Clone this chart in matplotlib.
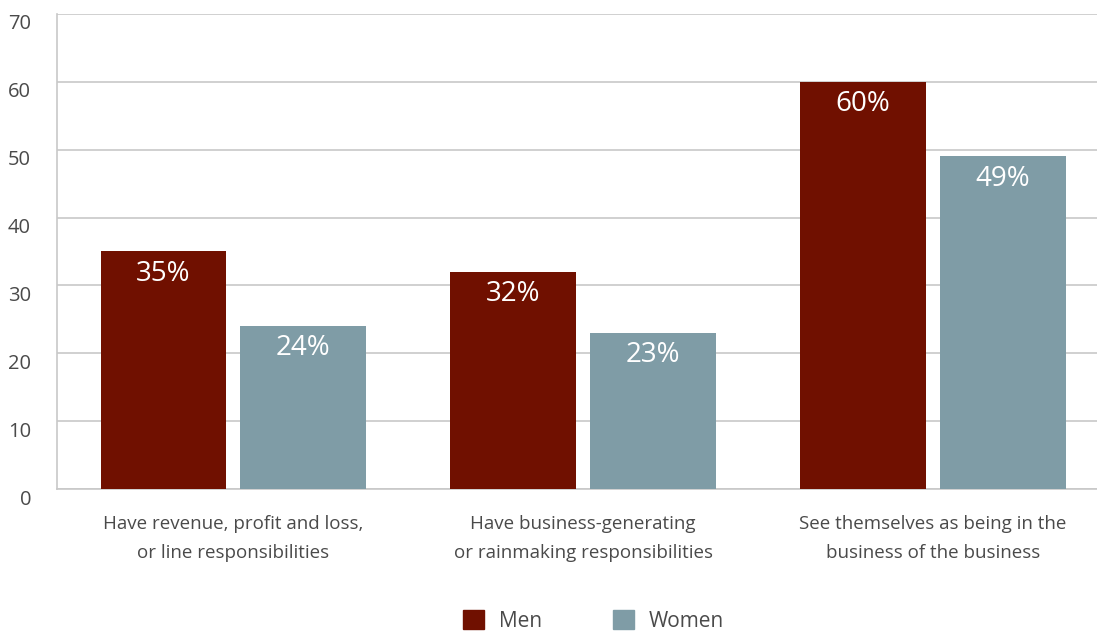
import numpy as np
import matplotlib.pyplot as plt
import matplotlib.transforms as mtrans
from matplotlib.patches import Patch

# Share of respondents, by gender
categories = ['Have revenue, profit and loss,\nor line responsibilities',
              'Have business-generating\nor rainmaking responsibilities',
              'See themselves as being in the\nbusiness of the business']
men = [35, 32, 60]
women = [24, 23, 49]
yticks = [0, 10, 20, 30, 40, 50, 60, 70]

c_men = '#701000'
c_women = '#7f9ca6'
c_text = '#4a4a4a'
c_grid = '#c8c8c8'

plt.rcParams['font.family'] = ['Open Sans', 'DejaVu Sans']

fig = plt.figure(figsize=(10.97, 6.31), dpi=100)
ax = fig.add_axes([0.0524, 0.225, 0.9476, 0.753])

x = np.arange(len(categories))
w = 0.36
b1 = ax.bar(x - 0.2, men, w, color=c_men, zorder=3)
b2 = ax.bar(x + 0.2, women, w, color=c_women, zorder=3)

for bars in (b1, b2):
    for rect in bars:
        v = rect.get_height()
        ax.annotate(f'{v:g}%', (rect.get_x() + rect.get_width() / 2, v),
                    xytext=(0, -6), textcoords='offset points',
                    ha='center', va='top', color='white', fontsize=20)

ax.set_xlim(-0.503, 2.469)
ax.set_ylim(0, 70)
ax.set_yticks(yticks)
ax.set_xticks(x)
ax.set_xticklabels(categories, fontsize=13.5, color=c_text, linespacing=1.75)
ax.tick_params(axis='y', length=0, pad=19, labelsize=14.5, labelcolor=c_text)
ax.tick_params(axis='x', length=0, pad=19)
# y labels sit a little below their gridlines
shift = mtrans.ScaledTranslation(0, -8 / 100, fig.dpi_scale_trans)
for lab in ax.get_yticklabels():
    lab.set_transform(lab.get_transform() + shift)
ax.yaxis.grid(True, color=c_grid, lw=1.2, zorder=0)
for s in ('top', 'right'):
    ax.spines[s].set_visible(False)
for s in ('left', 'bottom'):
    ax.spines[s].set_color(c_grid)
    ax.spines[s].set_linewidth(1.2)

handles = [Patch(color=c_men, label='Men'), Patch(color=c_women, label='Women')]
leg = fig.legend(handles=handles, loc='center', bbox_to_anchor=(0.541, 0.016),
                 ncol=2, frameon=False, fontsize=15, handlelength=1.0, handleheight=1.0,
                 columnspacing=3.4, handletextpad=0.7, borderpad=0, borderaxespad=0)
for t in leg.get_texts():
    t.set_color(c_text)

fig.savefig('out.png', dpi=100)
